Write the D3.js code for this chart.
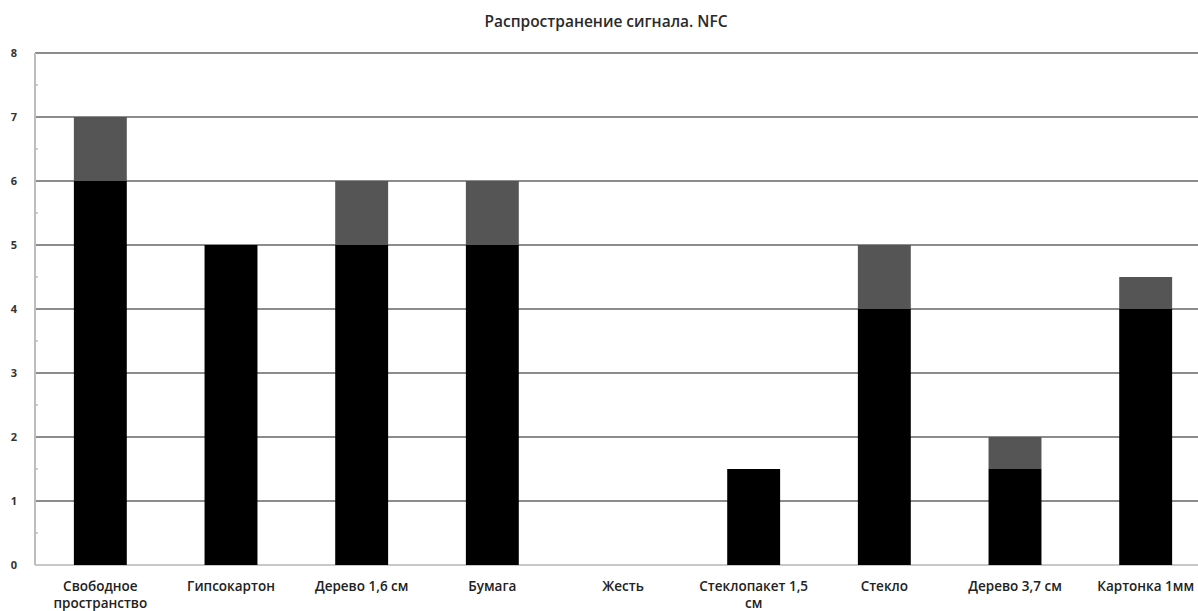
<!DOCTYPE html>
<html>
<head>
<meta charset="utf-8">
<script src="https://cdn.jsdelivr.net/npm/d3@7"></script>
<style>
  html, body { margin: 0; padding: 0; background: #fff; }
  svg { display: block; }
</style>
</head>
<body>
<svg id="chart" width="1198" height="611"></svg>
<script>
// Materials tested and the NFC signal range, split into a base part and an extra part
const categories = [
  ["Свободное", "пространство"],
  ["Гипсокартон"],
  ["Дерево 1,6 см"],
  ["Бумага"],
  ["Жесть"],
  ["Стеклопакет 1,5", "см"],
  ["Стекло"],
  ["Дерево 3,7 см"],
  ["Картонка 1мм"]
];
const baseValues  = [6, 5, 5, 5, 0, 1.5, 4, 1.5, 4];
const extraValues = [1, 0, 1, 1, 0, 0, 1, 0.5, 0.5];
const yTicks = [0, 1, 2, 3, 4, 5, 6, 7, 8];
const title = "Распространение сигнала. NFC";

const svg = d3.select("#chart");
const margin = { left: 35, top: 53, bottom: 46 };
const height = 611;
const plotRight = 1211;

const keys = categories.map((c, i) => i);
const x = d3.scaleBand().domain(keys).range([margin.left, plotRight])
  .paddingInner(0.595).paddingOuter(0.2975);
const y = d3.scaleLinear().domain([0, 8]).range([height - margin.bottom, margin.top]);

const font = "'Open Sans', 'Noto Sans', sans-serif";

// Title
svg.append("text")
  .attr("x", 606).attr("y", 27)
  .attr("text-anchor", "middle")
  .attr("font-family", font).attr("font-size", 15.5).attr("font-weight", 600)
  .attr("fill", "#2a2a2a")
  .text(title);

// Horizontal gridlines
svg.append("g").selectAll("line").data(yTicks).join("line")
  .attr("x1", margin.left).attr("x2", 1198)
  .attr("y1", d => y(d)).attr("y2", d => y(d))
  .attr("stroke", d => d === 0 ? "#c8c8c8" : "#8c8c8c")
  .attr("stroke-width", 2);

// Left axis line with minor ticks at half units
svg.append("line")
  .attr("x1", margin.left).attr("x2", margin.left)
  .attr("y1", y(8)).attr("y2", y(0))
  .attr("stroke", "#bdbdbd").attr("stroke-width", 2);
svg.append("g").selectAll("line").data(d3.range(0.5, 8, 1)).join("line")
  .attr("x1", margin.left).attr("x2", margin.left + 3)
  .attr("y1", d => y(d)).attr("y2", d => y(d))
  .attr("stroke", "#bdbdbd").attr("stroke-width", 1.5);

// Y tick labels
svg.append("g").selectAll("text").data(yTicks).join("text")
  .attr("x", 14).attr("y", d => y(d) + 4)
  .attr("text-anchor", "middle")
  .attr("font-family", font).attr("font-size", 11).attr("font-weight", 700)
  .attr("fill", "#333")
  .text(d => d);

// Stacked bars
const stacked = keys.map(i => ({ i, base: baseValues[i], extra: extraValues[i] }));
const bars = svg.append("g");
bars.selectAll("rect.base").data(stacked).join("rect")
  .attr("class", "base")
  .attr("x", d => x(d.i)).attr("width", x.bandwidth())
  .attr("y", d => y(d.base)).attr("height", d => y(0) - y(d.base))
  .attr("fill", "#000");
bars.selectAll("rect.extra").data(stacked.filter(d => d.extra > 0)).join("rect")
  .attr("class", "extra")
  .attr("x", d => x(d.i)).attr("width", x.bandwidth())
  .attr("y", d => y(d.base + d.extra)).attr("height", d => y(d.base) - y(d.base + d.extra))
  .attr("fill", "#555");

// Category labels
const lbl = svg.append("g").selectAll("text").data(keys).join("text")
  .attr("text-anchor", "middle")
  .attr("font-family", font).attr("font-size", 13.5).attr("font-weight", 600)
  .attr("fill", "#222")
  .attr("transform", i => `translate(${x(i) + x.bandwidth() / 2},${y(0) + 26})`);
lbl.selectAll("tspan").data(i => categories[i]).join("tspan")
  .attr("x", 0).attr("dy", (d, j) => j === 0 ? 0 : 17)
  .text(d => d);
</script>
</body>
</html>
